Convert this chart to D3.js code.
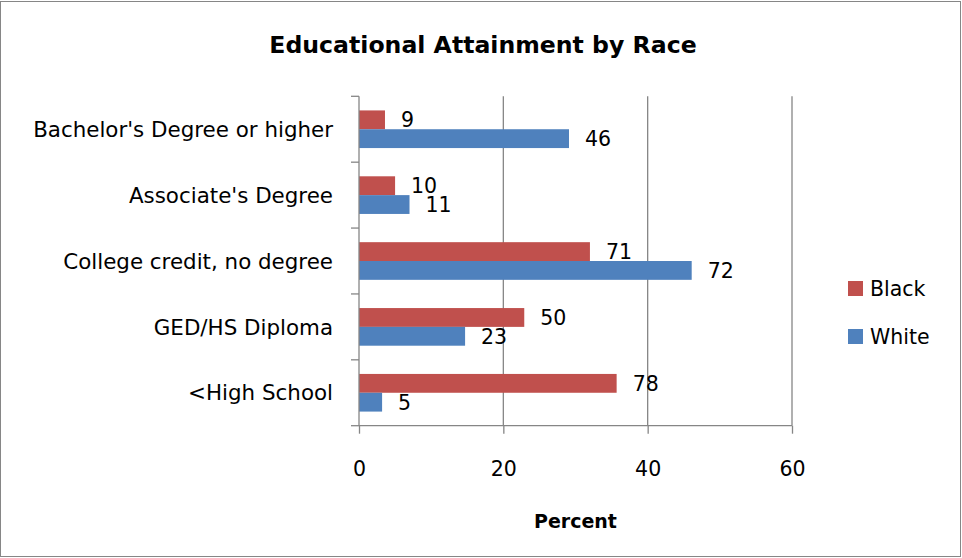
<!DOCTYPE html>
<html><head><meta charset="utf-8">
<script src="https://cdn.jsdelivr.net/npm/d3@7"></script>
<style>body{margin:0;background:#fff}svg{display:block}text{font-family:"DejaVu Sans",sans-serif}</style>
</head><body><svg id="c" width="962" height="558"></svg>
<script>
const categories = ["Bachelor's Degree or higher","Associate's Degree","College credit, no degree","GED/HS Diploma","<High School"];
const seriesNames = ["Black","White"];
const blackValues = [3.6, 5.0, 32.0, 22.9, 35.7];
const whiteValues = [29.1, 7.0, 46.1, 14.7, 3.2];
const blackLabels = ["9","10","71","50","78"];
const whiteLabels = ["46","11","72","23","5"];
const xTicks = [0,20,40,60];
const colors = {Black:"#C0504D", White:"#4F81BD"};

const svg = d3.select("#c");
const W=962,H=558;
svg.append("rect").attr("x",0.5).attr("y",1.5).attr("width",W-2).attr("height",H-3).attr("fill","#fff").attr("stroke","#868686").attr("stroke-width",1);

const L=359,R=792,T=96.3,B=425.7;
const x = d3.scaleLinear().domain([0,60]).range([L,R]);
const y = d3.scaleBand().domain(categories).range([T,B]);
const inner = d3.scaleBand().domain(seriesNames).range([0,y.bandwidth()]).paddingOuter(0.75).paddingInner(0);

svg.append("g").selectAll("line").data(xTicks.slice(1)).join("line")
  .attr("x1",d=>x(d)).attr("x2",d=>x(d)).attr("y1",T).attr("y2",B)
  .attr("stroke","#868686").attr("stroke-width",1.3);

const rows = categories.map((c,i)=>({c, vals:[{s:"Black",v:blackValues[i],l:blackLabels[i]},{s:"White",v:whiteValues[i],l:whiteLabels[i]}]}));
const g = svg.append("g").selectAll("g").data(rows).join("g").attr("transform",d=>`translate(0,${y(d.c)})`);
g.selectAll("rect").data(d=>d.vals).join("rect")
  .attr("x",x(0)).attr("y",d=>inner(d.s)).attr("width",d=>x(d.v)-x(0)).attr("height",inner.bandwidth())
  .attr("fill",d=>colors[d.s]);
g.selectAll("text").data(d=>d.vals).join("text")
  .attr("x",d=>x(d.v)+16).attr("y",d=>inner(d.s)+inner.bandwidth()/2).attr("dy","0.36em")
  .attr("font-size",20.5).attr("fill","#000").text(d=>d.l);

const xa = svg.append("g").attr("transform",`translate(0,${B})`)
  .call(d3.axisBottom(x).tickValues(xTicks).tickSize(8));
xa.select(".domain").attr("stroke","#868686").attr("stroke-width",1.3).attr("d",`M${L},0H${R}`);
xa.selectAll(".tick line").attr("stroke","#868686").attr("stroke-width",1.3);
xa.selectAll(".tick text").attr("y",42.5).attr("dy","0.36em").attr("font-size",20.5).attr("fill","#000").attr("font-family","DejaVu Sans,sans-serif");

const ya = svg.append("g").attr("transform",`translate(${L},0)`)
  .call(d3.axisLeft(y).tickSize(0).tickPadding(26));
ya.select(".domain").attr("stroke","#868686").attr("stroke-width",1.3).attr("d",`M0,${T}V${B}`);
ya.selectAll(".tick text").attr("dy","0.36em").attr("font-size",21.4).attr("fill","#000").attr("font-family","DejaVu Sans,sans-serif");
svg.append("g").selectAll("line").data(d3.range(categories.length+1)).join("line")
  .attr("x1",L-8).attr("x2",L).attr("y1",i=>T+i*y.step()).attr("y2",i=>T+i*y.step())
  .attr("stroke","#868686").attr("stroke-width",1.3);

svg.append("text").attr("x",483).attr("y",45).attr("dy","0.36em").attr("text-anchor","middle")
  .attr("font-size",23.6).attr("font-weight","bold").text("Educational Attainment by Race");
svg.append("text").attr("x",(L+R)/2).attr("y",521).attr("dy","0.36em").attr("text-anchor","middle")
  .attr("font-size",19).attr("font-weight","bold").text("Percent");

const lg = svg.append("g").selectAll("g").data(seriesNames).join("g")
  .attr("transform",(d,i)=>`translate(848,${281+i*48})`);
lg.append("rect").attr("width",15).attr("height",15).attr("fill",d=>colors[d]);
lg.append("text").attr("x",22).attr("y",7.5).attr("dy","0.36em").attr("font-size",20.5).text(d=>d);
</script></body></html>
